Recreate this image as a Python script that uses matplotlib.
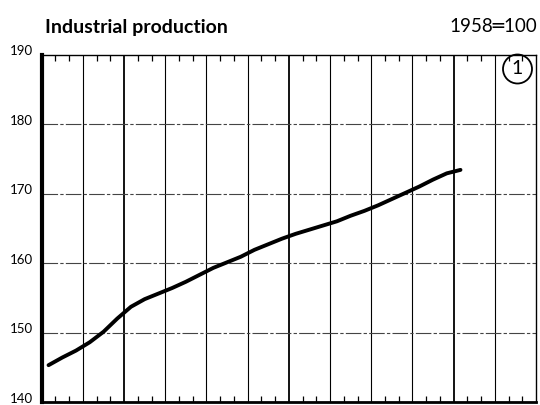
import matplotlib.pyplot as plt
import matplotlib.transforms as mtransforms
from matplotlib.patches import Circle
import numpy as np

# monthly index values (1958 = 100), 31 months on a 36-month axis
production = [145.3, 146.4, 147.4, 148.6, 150.1, 152.0, 153.7, 154.8, 155.6, 156.4,
              157.3, 158.3, 159.3, 160.1, 160.9, 161.9, 162.7, 163.5, 164.2, 164.8,
              165.4, 166.0, 166.8, 167.5, 168.3, 169.2, 170.1, 171.0, 172.0, 172.9,
              173.4]
y_ticks = [140, 150, 160, 170, 180, 190]
n_months = 36

plt.rcParams['font.family'] = ['Lato', 'DejaVu Sans']

fig = plt.figure(figsize=(5.4, 4.05), dpi=100)
ax = fig.add_axes([0.0772, 0.0074, 0.9154, 0.858])

months = np.arange(len(production)) + 0.5
ax.plot(months, production, color='black', lw=2.8, solid_capstyle='round')

ax.set_xlim(0, n_months)
ax.set_ylim(140, 190)

# quarterly vertical lines, thicker at year boundaries
for q in range(3, n_months, 3):
    lw = 1.3 if q % 12 == 6 else 0.8
    ax.axvline(q, color='black', lw=lw, zorder=1)
for v in y_ticks[1:-1]:
    ax.axhline(v, color='#444444', lw=0.8, dashes=(14, 2, 3, 2), zorder=1)

ax.set_xticks(range(0, n_months + 1, 3))
ax.set_xticks(range(0, n_months + 1), minor=True)
ax.tick_params(axis='x', which='both', direction='in', top=True, bottom=True,
               labelbottom=False, color='black')
ax.tick_params(axis='x', which='major', length=0)
ax.tick_params(axis='x', which='minor', length=4, width=0.9)

ax.set_yticks(y_ticks)
ax.tick_params(axis='y', length=0, labelsize=9.5, pad=6)
offset = mtransforms.ScaledTranslation(0, 3 / 72, fig.dpi_scale_trans)
for lbl in ax.get_yticklabels():
    lbl.set_transform(lbl.get_transform() + offset)

ax.spines['left'].set_linewidth(3.0)
ax.spines['bottom'].set_linewidth(2.0)
ax.spines['top'].set_linewidth(1.0)
ax.spines['right'].set_linewidth(1.0)

# numbered circle in the corner
circ = Circle((517.5, 405 - 69), 14.5, transform=None, fill=False, lw=1.3,
              color='black', zorder=5)
fig.add_artist(circ)
fig.text(517.5 / 540, 1 - 69 / 405, '1', ha='center', va='center', fontsize=14)

fig.text(45 / 540, 1 - 27 / 405, 'Industrial production', ha='left', va='center',
         fontsize=14, fontweight='bold')
fig.text(537 / 540, 1 - 27 / 405, '1958═100', ha='right', va='center', fontsize=13.5)

fig.savefig('out.png', dpi=100)
